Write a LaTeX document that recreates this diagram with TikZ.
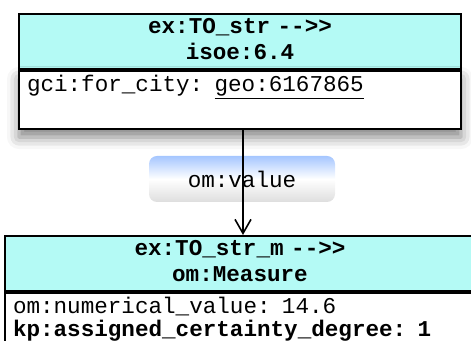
\documentclass[tikz,border=0pt]{standalone}
\usepackage{fontspec}
\setmonofont{Liberation Mono}
\usepackage{tikz}
\usetikzlibrary{arrows.meta, positioning, shadows.blur}

\definecolor{headcyan}{RGB}{180,250,245}
\definecolor{labelblue}{RGB}{165,198,255}
\definecolor{labelgray}{RGB}{222,222,222}

\begin{document}
\begin{tikzpicture}[x=1pt, y=1pt, >={Straight Barb[length=7pt, width=8pt]},
    class_head/.style ={rectangle, draw=black, fill=headcyan, line width=1pt,
      minimum height=27.5pt, inner xsep=4pt, inner ysep=1pt, align=center,
      font=\ttfamily\bfseries\fontsize{11.3}{12.6}\selectfont},
    class_body/.style ={rectangle, draw=black, fill=white, line width=1pt,
      inner xsep=4pt, inner ysep=2pt, align=left,
      font=\ttfamily\fontsize{11.3}{11.5}\selectfont},
    prop_label/.style ={rectangle, rounded corners=4pt, minimum width=93pt,
      minimum height=23pt, top color=labelblue, bottom color=labelgray,
      middle color=white, font=\ttfamily\fontsize{11.3}{11.5}\selectfont}]
    \useasboundingbox (0,0) rectangle (235.5,170.5);
    % top class
    \node[class_head, text width=213pt, anchor=north] (str) at (120,164)
      {\strut ex:TO\_str {-}{-}>{}>\\\strut isoe:6.4};
    \node[below=0pt of str, class_body, text width=213pt, minimum height=27pt,
      blur shadow={shadow xshift=0pt, shadow yshift=-4pt, shadow blur radius=6pt, shadow opacity=50}]
      (strbody) {gci:for\_city: \underline{geo:6167865}\\\strut};
    % bottom class
    \node[class_head, text width=227pt, anchor=north] (meas) at (120,53)
      {\strut ex:TO\_str\_m {-}{-}>{}>\\\strut om:Measure};
    \node[below=0pt of meas, class_body, text width=227pt] (measbody)
      {om:numerical\_value: 14.6\\\textbf{kp:assigned\_certainty\_degree: 1}\\\strut};
    % property
    \node[prop_label] (val) at (121,81) {om:value};
    \draw[->, line width=0.8pt] (strbody.south -| 121.5,0) -- (meas.north -| 121.5,0);
\end{tikzpicture}
\end{document}
